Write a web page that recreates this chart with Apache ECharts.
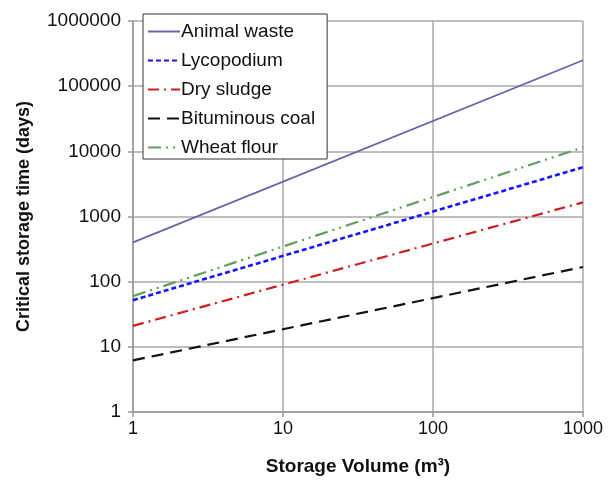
<!DOCTYPE html>
<html><head><meta charset="utf-8">
<script src="https://cdn.jsdelivr.net/npm/echarts@6/dist/echarts.min.js"></script>
<style>html,body{margin:0;padding:0;background:#fff}#c{width:608px;height:481px}</style>
</head><body><div id="c"></div>
<script>
const volumes = [1, 1000];
const animalWaste = [400, 250000];
const lycopodium = [52, 5700];
const drySludge = [21, 1650];
const bituminousCoal = [6.2, 168];
const wheatFlour = [60, 11500];
const seriesNames = ['Animal waste', 'Lycopodium', 'Dry sludge', 'Bituminous coal', 'Wheat flour'];
const xTicks = [1, 10, 100, 1000];
const yTicks = [1, 10, 100, 1000, 10000, 100000, 1000000];

const font = 'Liberation Sans, Arial, Helvetica, sans-serif';
const pairs = v => volumes.map((x, i) => [x, v[i]]);
const styles = [
  {color: '#6464a6', width: 1.8, type: 'solid'},
  {color: '#1414ff', width: 2.6, type: [5, 3]},
  {color: '#cc2020', width: 2.2, type: [11, 5, 2, 5]},
  {color: '#111111', width: 2.2, type: [12, 7]},
  {color: '#5f9e5f', width: 2.2, type: [13, 5, 2, 5, 2, 5]}
];
const dataSets = [animalWaste, lycopodium, drySludge, bituminousCoal, wheatFlour];

const chart = echarts.init(document.getElementById('c'));
chart.setOption({
  animation: false,
  backgroundColor: '#fff',
  grid: {left: 133, right: 25, top: 21, bottom: 63, containLabel: false},
  legend: {
    left: 143, top: 14, orient: 'vertical',
    data: seriesNames,
    backgroundColor: '#fff', borderColor: '#333', borderWidth: 1,
    padding: [8, 12, 2, 4],
    itemWidth: 32, itemHeight: 14, itemGap: 10,
    itemStyle: {opacity: 0},
    textStyle: {fontFamily: font, fontSize: 19, color: '#111', padding: [0, 0, 0, -4]}
  },
  xAxis: {
    type: 'log', logBase: 10, min: 1, max: 1000,
    name: 'Storage Volume (m³)', nameLocation: 'middle', nameGap: 45,
    nameTextStyle: {fontFamily: font, fontSize: 19, fontWeight: 'bold', color: '#111'},
    axisLine: {show: true, lineStyle: {color: '#999', width: 1.5}},
    axisTick: {show: true, length: 5, lineStyle: {color: '#999', width: 1.5}},
    axisLabel: {fontFamily: font, fontSize: 18, color: '#111', margin: 8,
      formatter: v => xTicks.includes(Math.round(v)) ? String(Math.round(v)) : ''},
    splitLine: {show: true, lineStyle: {color: '#aaa', width: 1.5}},
    minorTick: {show: false}
  },
  yAxis: {
    type: 'log', logBase: 10, min: 1, max: 1000000,
    name: 'Critical storage time (days)', nameLocation: 'middle', nameGap: 100,
    nameTextStyle: {fontFamily: font, fontSize: 18, fontWeight: 'bold', color: '#111'},
    axisLine: {show: true, lineStyle: {color: '#999', width: 1.5}},
    axisTick: {show: true, length: 5, lineStyle: {color: '#999', width: 1.5}},
    axisLabel: {fontFamily: font, fontSize: 19, color: '#111', margin: 12,
      formatter: v => yTicks.includes(Math.round(v)) ? String(Math.round(v)) : ''},
    splitLine: {show: true, lineStyle: {color: '#aaa', width: 1.5}}
  },
  series: seriesNames.map((n, i) => ({
    name: n, type: 'line', data: pairs(dataSets[i]),
    showSymbol: false, symbol: 'none',
    lineStyle: styles[i], itemStyle: {color: styles[i].color}
  }))
});
</script></body></html>
